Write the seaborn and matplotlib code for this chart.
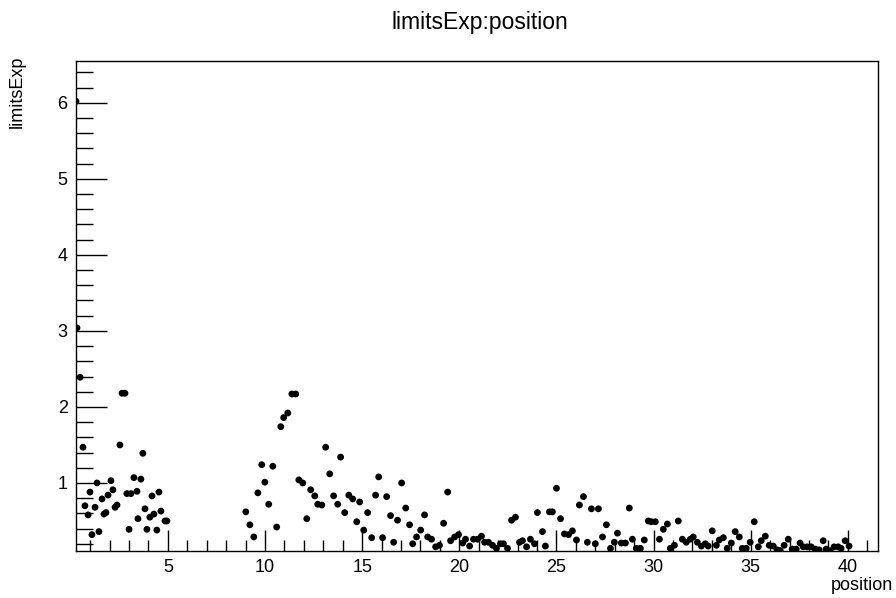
import matplotlib
matplotlib.use("Agg")
import matplotlib.pyplot as plt
from matplotlib.ticker import MultipleLocator
import seaborn as sns
import pandas as pd

position = [
    0.27, 0.32, 0.48, 0.63, 0.73, 0.89, 0.99, 1.09, 1.25, 1.35, 1.45, 1.61, 1.71, 1.81, 1.92, 2.07, 2.17, 2.28, 2.38, 2.53,
    2.64, 2.79, 2.89, 3.00, 3.10, 3.25, 3.41, 3.46, 3.61, 3.71, 3.82, 3.92, 4.07, 4.18, 4.28, 4.43, 4.54, 4.64, 4.85, 4.95,
    9.01, 9.22, 9.42, 9.63, 9.83, 9.99, 10.19, 10.40, 10.60, 10.81, 10.96, 11.17, 11.38, 11.58, 11.74, 11.94, 12.15, 12.35,
    12.56, 12.71, 12.92, 13.12, 13.33, 13.53, 13.74, 13.89, 14.10, 14.31, 14.51, 14.72, 14.87,
    15.08, 15.28, 15.49, 15.69, 15.85, 16.05, 16.26, 16.46, 16.62, 16.82, 17.03, 17.24, 17.44, 17.60, 17.80, 18.01, 18.21,
    18.37, 18.57, 18.78, 18.98, 19.19, 19.40, 19.55, 19.76, 19.96, 20.17, 20.32, 20.53, 20.73, 20.94,
    21.14, 21.30, 21.50, 21.71, 21.91, 22.12, 22.27, 22.48, 22.69, 22.89, 23.10, 23.25, 23.46, 23.66, 23.87, 24.02, 24.28,
    24.43, 24.64, 24.79, 25.00, 25.21, 25.41, 25.62, 25.82, 26.03, 26.18, 26.39, 26.59, 26.80, 27.00, 27.16,
    27.37, 27.57, 27.78, 27.98, 28.14, 28.34, 28.55, 28.75, 28.91, 29.11, 29.32, 29.52, 29.73, 29.88, 30.09, 30.30, 30.50,
    30.71, 30.86, 31.07, 31.27, 31.48, 31.68, 31.89, 32.04, 32.25, 32.46, 32.66, 32.81, 33.02, 33.23, 33.38,
    33.59, 33.79, 34.00, 34.20, 34.41, 34.56, 34.77, 34.97, 35.18, 35.39, 35.54, 35.75, 35.95, 36.16, 36.36, 36.52, 36.72,
    36.93, 37.13, 37.34, 37.54, 37.70, 37.90, 38.11, 38.32, 38.52, 38.73, 38.88, 39.09, 39.29, 39.50, 39.65, 39.86, 40.06,
]

limits_exp = [
    6.02, 3.04, 2.39, 1.47, 0.70, 0.58, 0.88, 0.32, 0.68, 1.00, 0.36, 0.79, 0.59, 0.61, 0.84, 1.03, 0.91, 0.68, 0.71, 1.50,
    2.18, 2.18, 0.86, 0.39, 0.86, 1.07, 0.89, 0.53, 1.05, 1.39, 0.66, 0.39, 0.55, 0.83, 0.59, 0.38, 0.88, 0.63, 0.50, 0.50,
    0.62, 0.45, 0.29, 0.87, 1.24, 1.01, 0.72, 1.22, 0.42, 1.74, 1.86, 1.92, 2.17, 2.17, 1.04, 1.00, 0.53, 0.91,
    0.83, 0.72, 0.71, 1.47, 1.12, 0.83, 0.72, 1.34, 0.61, 0.84, 0.79, 0.49, 0.75,
    0.38, 0.61, 0.28, 0.84, 1.08, 0.28, 0.82, 0.57, 0.22, 0.51, 1.00, 0.67, 0.45, 0.20, 0.29, 0.38, 0.58,
    0.29, 0.26, 0.16, 0.18, 0.47, 0.88, 0.24, 0.29, 0.32, 0.21, 0.26, 0.17, 0.26, 0.26,
    0.30, 0.22, 0.22, 0.18, 0.14, 0.20, 0.20, 0.14, 0.51, 0.55, 0.22, 0.24, 0.16, 0.26, 0.20, 0.61, 0.36,
    0.17, 0.62, 0.62, 0.93, 0.53, 0.33, 0.32, 0.37, 0.25, 0.71, 0.82, 0.22, 0.66, 0.20, 0.66,
    0.29, 0.45, 0.14, 0.22, 0.34, 0.21, 0.21, 0.67, 0.26, 0.14, 0.14, 0.25, 0.50, 0.49, 0.49, 0.26, 0.39,
    0.46, 0.14, 0.18, 0.50, 0.26, 0.22, 0.26, 0.29, 0.22, 0.17, 0.20, 0.17, 0.37, 0.18, 0.25,
    0.28, 0.14, 0.21, 0.36, 0.29, 0.14, 0.14, 0.22, 0.49, 0.16, 0.24, 0.30, 0.18, 0.17, 0.12, 0.11, 0.18,
    0.26, 0.13, 0.13, 0.21, 0.16, 0.16, 0.16, 0.13, 0.12, 0.24, 0.13, 0.11, 0.16, 0.16, 0.14, 0.24, 0.17,
]

x_major = [5, 10, 15, 20, 25, 30, 35, 40]
y_major = [1, 2, 3, 4, 5, 6]

df = pd.DataFrame({"position": position, "limitsExp": limits_exp})

sns.set_theme(style="ticks")
plt.rcParams["font.family"] = ["Liberation Sans", "DejaVu Sans"]
plt.rcParams["text.color"] = "black"
plt.rcParams["xtick.color"] = "black"
plt.rcParams["ytick.color"] = "black"
plt.rcParams["xtick.labelcolor"] = "black"
plt.rcParams["ytick.labelcolor"] = "black"

W, H = 896, 598
fig = plt.figure(figsize=(W / 100, H / 100), dpi=100)
ax = fig.add_axes([76 / W, 1 - 551 / H, (878 - 76) / W, (551 - 61) / H])

sns.scatterplot(data=df, x="position", y="limitsExp", ax=ax, color="black",
                s=24, edgecolor="none", linewidth=0, legend=False)

ax.set_xlim(0.27, 41.55)
ax.set_ylim(0.105, 6.55)
ax.set_xticks(x_major)
ax.set_yticks(y_major)
ax.xaxis.set_minor_locator(MultipleLocator(1))
ax.yaxis.set_minor_locator(MultipleLocator(0.2))
ax.tick_params(axis="both", which="both", direction="in", top=False, right=False,
               colors="black", labelcolor="black", labelsize=13, width=1)
ax.tick_params(axis="x", which="major", length=15, pad=6)
ax.tick_params(axis="x", which="minor", length=8)
ax.tick_params(axis="y", which="major", length=22, pad=6)
ax.tick_params(axis="y", which="minor", length=12)
for sp in ax.spines.values():
    sp.set_visible(True)
    sp.set_color("black")
    sp.set_linewidth(1)

ax.set_xlabel("")
ax.set_ylabel("")
fig.text(893 / W, 1 - 586 / H, "position", ha="right", va="center", fontsize=13, color="black")
fig.text(17 / W, 1 - 56 / H, "limitsExp", ha="center", va="top", rotation=90, fontsize=13, color="black")
fig.text(480 / W, 1 - 22 / H, "limitsExp:position", ha="center", va="center", fontsize=16.5, color="black")

fig.savefig("out.png", dpi=100)
